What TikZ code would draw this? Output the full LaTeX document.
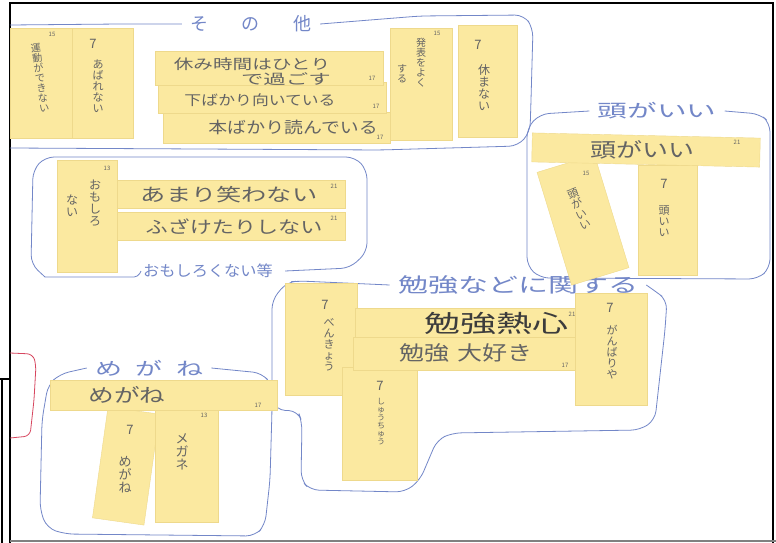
\documentclass[tikz,border=0pt]{standalone}
\usepackage{fontspec}
\newfontfamily\jp{Noto Sans CJK JP}
\definecolor{notey}{RGB}{251,233,160}
\definecolor{notee}{RGB}{238,217,140}
\definecolor{pencil}{RGB}{100,100,100}
\definecolor{penink}{RGB}{60,60,60}
\definecolor{bluepen}{RGB}{115,135,200}
\definecolor{redpen}{RGB}{215,70,95}
\begin{document}
\begin{tikzpicture}[x=1pt,y=-1pt,
  note/.style={fill=notey, draw=notee, line width=0.4pt, inner sep=0pt, anchor=north west},
  rnote/.style={fill=notey, draw=notee, line width=0.4pt, inner sep=0pt, anchor=center},
  hand/.style={font=\jp\fontsize{#1}{#1}\selectfont, text=pencil, inner sep=0pt},
  hand/.default=14,
  vt/.style={font=\jp\fontsize{#1}{#1}\selectfont, text=pencil, align=center, inner sep=0pt},
  vt/.default=11,
  num/.style={font=\jp\fontsize{6}{6}\selectfont, text=pencil, inner sep=0pt},
  seven/.style={font=\jp\fontsize{13}{13}\selectfont, text=pencil, inner sep=0pt},
  blab/.style={font=\jp\fontsize{#1}{#1}\selectfont, text=bluepen, inner sep=0pt},
  blab/.default=18,
  outline/.style={draw=bluepen, line width=0.8pt, rounded corners=9pt},
  frame/.style={draw=black, line width=2pt}
]
\useasboundingbox (0,0) rectangle (776,543);
\fill[white] (0,0) rectangle (776,543);

% frames
\draw[frame] (10,543) -- (10,3) -- (773,3) -- (773,543);
\draw[draw=gray, line width=1.5pt] (10,541) -- (776,541);
\draw[frame, line width=1.5pt] (0,379) -- (10,379);
\draw[frame, line width=1.5pt] (2,379) -- (2,543);

% red bracket
\draw[redpen, line width=0.8pt, rounded corners=6pt] (10,353) -- (33,354) -- (36,365) -- (34,400) -- (30,436) -- (10,438);

% group labels
\node[blab] (lab1) at (251,24) {そ\hspace{34pt}の\hspace{34pt}他};
\node[blab=15, xscale=1.08] (lab2) at (208,271) {おもしろくない等};
\node[blab, xscale=1.65] (lab3) at (657,111) {頭がいい};
\node[blab=20, xscale=1.5] (lab4) at (518,285) {勉強などに関する};
\node[blab, xscale=1.5] (lab5) at (149,368) {め\hspace{9pt}が\hspace{9pt}ね};

% group outlines
\draw[outline] (10,25) -- (120,24) -- ([xshift=-8pt]lab1.west);
\draw[outline] ([xshift=8pt]lab1.east) -- (420,16) -- (524,15) -- (533,28) -- (531,100) -- (530,132) -- (518,146) -- (380,150) -- (200,149) -- (10,148);
\draw[outline, rounded corners=4pt] ([xshift=-2pt]lab2.west) -- ++(-3,6) -- (45,277);
\draw[outline] (45,277) -- (31,264) -- (33,170) -- (45,157) -- (355,157) -- (367,170) -- (367,252) -- (350,268) -- ([xshift=12pt]lab2.east);
\draw[outline] ([xshift=-8pt]lab3.west) -- (540,114) -- (527,128) -- (527,266) -- (540,278) -- (758,279) -- (770,268) -- (770,123) -- (760,114) -- ([xshift=8pt]lab3.east);
\draw[outline] ([xshift=-8pt]lab4.west) -- (300,281) -- (287,282) -- (272,300) -- (272,400) -- (276,410) -- (298,411) -- (302,422) -- (301,480) -- (310,490) -- (405,492) -- (420,480) -- (437,440) -- (452,433) -- (640,430) -- (655,420) -- (665,330) -- (667,300) -- (655,291) -- ([xshift=8pt]lab4.east);
\draw[outline] ([xshift=-8pt]lab5.west) -- (60,374) -- (48,385) -- (42,420) -- (40,510) -- (47,528) -- (65,534) -- (255,536) -- (265,525) -- (270,480) -- (272,410) -- (272,385) -- (262,373) -- ([xshift=8pt]lab5.east);

% ---- その他 ----
\node[note, minimum width=62pt, minimum height=110pt] (n1) at (10,28) {};
\node[note, minimum width=61pt, minimum height=110pt] (n2) at (72,28) {};
\node[note, minimum width=227pt, minimum height=31pt] (n5) at (163,112) {};
\node[note, minimum width=228pt, minimum height=31pt] (n4) at (158,82) {};
\node[note, minimum width=228pt, minimum height=34pt] (n3) at (155,51) {};
\node[note, minimum width=62pt, minimum height=112pt] (n6) at (390,28) {};
\node[note, minimum width=59pt, minimum height=112pt] (n7) at (458,25) {};

\node[num] (t1n) at (52,34) {15};
\node[vt=10, rotate=8] (t1) at (40,78) {運\\動\\が\\で\\き\\な\\い};
\node[seven] (t2s) at (93,44) {7};
\node[vt] (t2) at (98,86) {あ\\ば\\れ\\な\\い};
\node[hand, xscale=1.4] (t3a) at (252,64) {休み時間はひとり};
\node[hand, xscale=1.6] (t3b) at (286,79) {で過ごす};
\node[num] (t3n) at (372,78) {17};
\node[hand, xscale=1.2] (t4) at (260,100) {下ばかり向いている};
\node[num] (t4n) at (376,106) {17};
\node[hand=16, xscale=1.18] (t5) at (293,127) {本ばかり読んでいる};
\node[num] (t5n) at (380,137) {17};
\node[num] (t6n) at (437,33) {15};
\node[vt=10] (t6a) at (421,63) {発\\表\\を\\よ\\く};
\node[vt=10] (t6b) at (402,74) {す\\る};
\node[seven] (t7s) at (478,45) {7};
\node[vt=12] (t7) at (484,88) {休\\ま\\な\\い};

% ---- おもしろくない等 ----
\node[note, minimum width=60pt, minimum height=112pt] (n8) at (57,160) {};
\node[note, minimum width=228pt, minimum height=28pt] (n9) at (117,180) {};
\node[note, minimum width=228pt, minimum height=28pt] (n10) at (117,212) {};
\node[num] (t8n) at (107,168) {13};
\node[vt=12] (t8a) at (95,203) {お\\も\\し\\ろ};
\node[vt=12] (t8b) at (72,206) {な\\い};
\node[hand=18, xscale=1.4] (t9) at (229,195) {あまり笑わない};
\node[num] (t9n) at (334,186) {21};
\node[hand=17, xscale=1.3] (t10) at (234,227) {ふざけたりしない};
\node[num] (t10n) at (334,218) {21};

% ---- 頭がいい ----
\node[rnote, rotate=17, minimum width=60pt, minimum height=118pt] (n12) at (583,220) {};
\node[note, minimum width=59pt, minimum height=110pt] (n13) at (638,165) {};
\node[rnote, rotate=-1.3, minimum width=228pt, minimum height=29pt] (n11) at (646,150) {};
\node[hand=20, xscale=1.3] (t11) at (642,150) {頭がいい};
\node[num] (t11n) at (737,142) {21};
\node[num] (t12n) at (586,173) {15};
\node[vt=11, rotate=22] (t12) at (579,209) {頭\\が\\い\\い};
\node[seven] (t13s) at (664,184) {7};
\node[vt=11] (t13) at (664,221) {頭\\い\\い};

% ---- 勉強などに関する ----
\node[note, minimum width=72pt, minimum height=112pt] (n16) at (285,283) {};
\node[note, minimum width=75pt, minimum height=113pt] (n19) at (342,367) {};
\node[note, minimum width=228pt, minimum height=32pt] (n17) at (355,308) {};
\node[note, minimum width=230pt, minimum height=33pt] (n18) at (353,337) {};
\node[note, minimum width=72pt, minimum height=112pt] (n20) at (575,293) {};
\node[seven] (t16s) at (325,305) {7};
\node[vt=11] (t16) at (329,345) {べ\\ん\\き\\ょ\\う};
\node[hand=24, xscale=1.5, text=penink] (t17) at (496,323) {勉強熱心};
\node[num] (t17n) at (572,314) {21};
\node[hand=20, xscale=1.25] (t18) at (466,353) {勉強\hspace{6pt}大好き};
\node[num] (t18n) at (565,365) {17};
\node[seven] (t19s) at (380,386) {7};
\node[vt=8] (t19) at (381,422) {し\\ゅ\\う\\ち\\ゅ\\う};
\node[seven] (t20s) at (610,308) {7};
\node[vt=11] (t20) at (612,352) {が\\ん\\ば\\り\\や};

% ---- めがね ----
\node[rnote, rotate=-8, minimum width=52pt, minimum height=112pt] (n15a) at (126,466) {};
\node[note, minimum width=63pt, minimum height=112pt] (n15b) at (155,410) {};
\node[note, minimum width=227pt, minimum height=30pt] (n14) at (50,380) {};
\node[hand=19, xscale=1.35] (t14) at (127,395) {めがね};
\node[num] (t14n) at (258,405) {17};
\node[seven] (t15s) at (130,430) {7};
\node[vt=13] (t15a) at (125,475) {め\\が\\ね};
\node[num] (t15n) at (204,415) {13};
\node[vt=13] (t15b) at (182,452) {メ\\ガ\\ネ};
\end{tikzpicture}
\end{document}
